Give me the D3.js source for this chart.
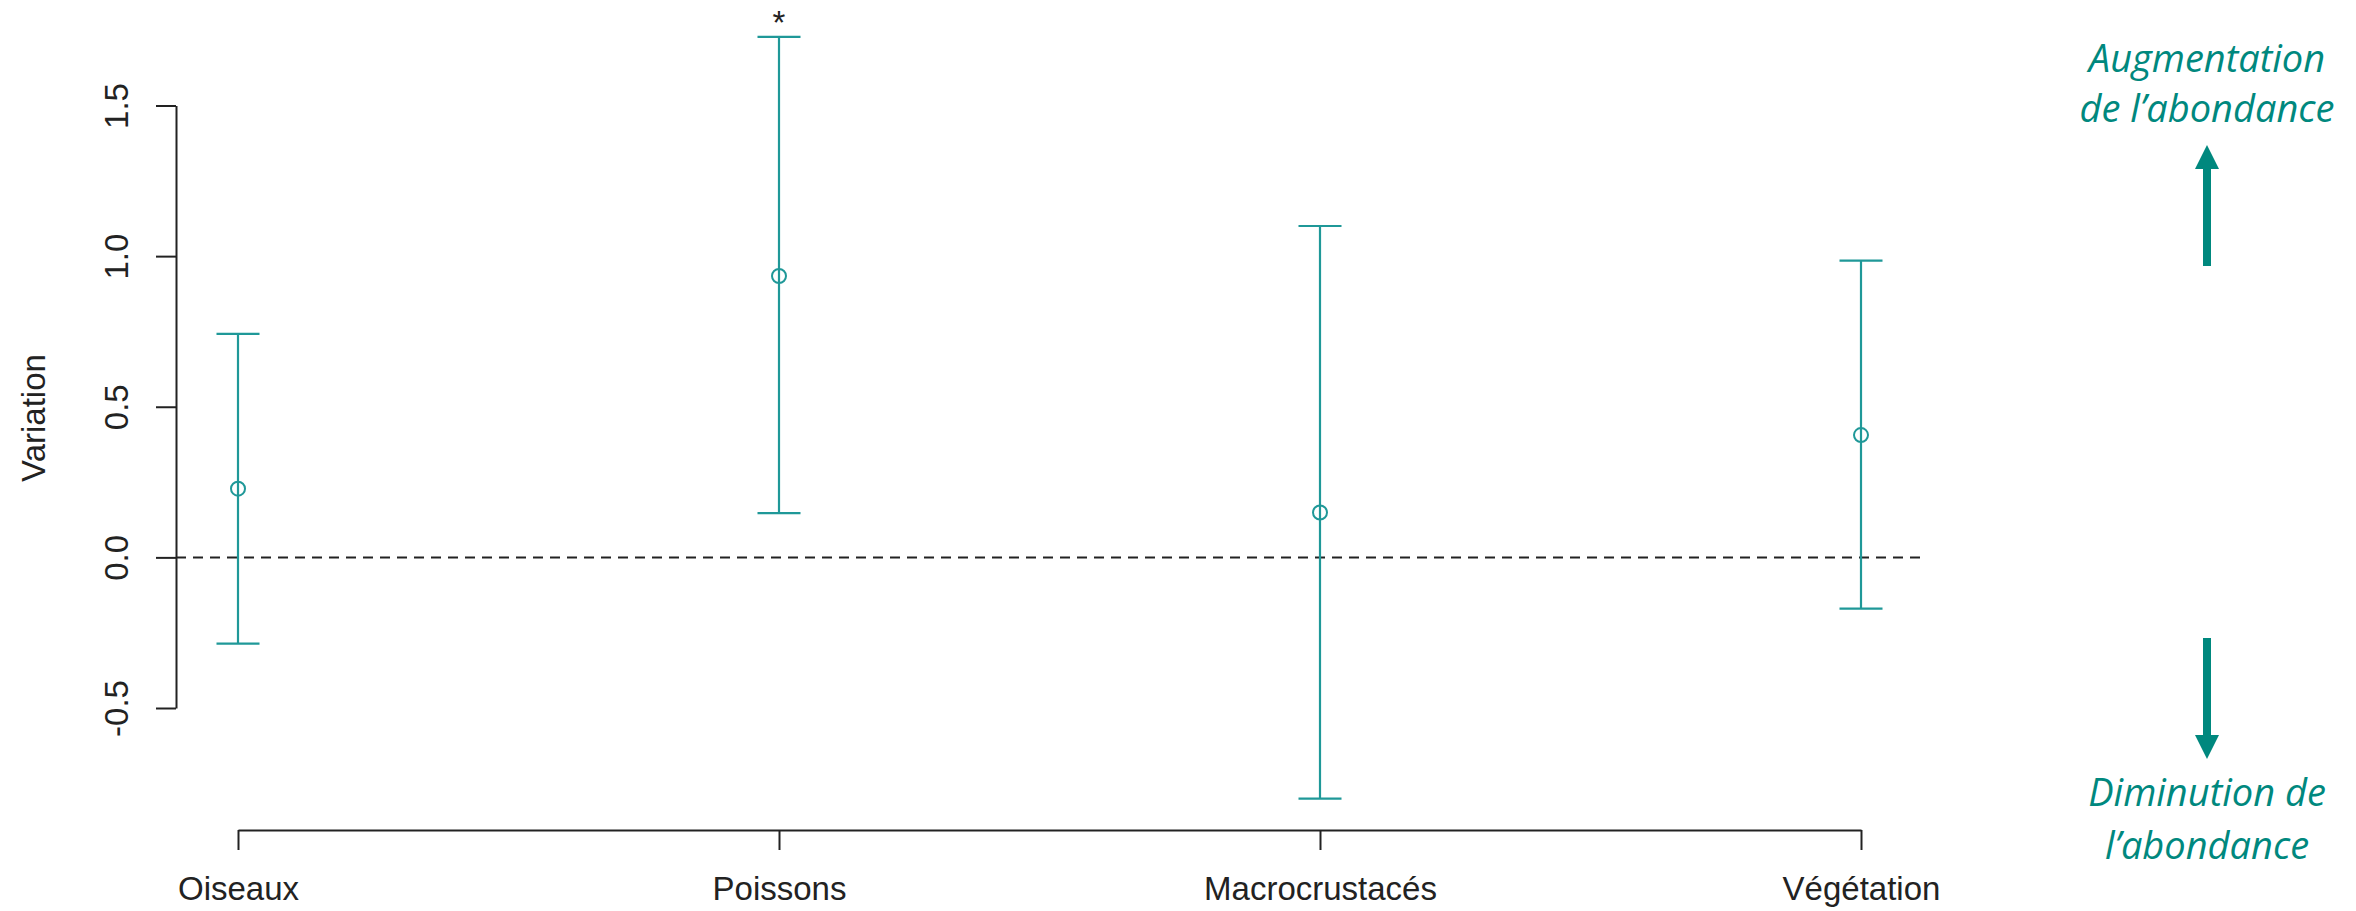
<!DOCTYPE html>
<html>
<head>
<meta charset="utf-8">
<script src="https://cdn.jsdelivr.net/npm/d3@7"></script>
<style>
  body { margin: 0; background: #fff; }
  svg { display: block; }
</style>
</head>
<body>
<svg id="chart"></svg>
<script>
// values
const groups = ["Oiseaux", "Poissons", "Macrocrustacés", "Végétation"];
const estimates = [0.228, 0.934, 0.149, 0.406];
const lowerCI = [-0.286, 0.147, -0.801, -0.170];
const upperCI = [0.742, 1.728, 1.100, 0.985];
const signif = ["", "*", "", ""];
const yTicks = [-0.5, 0, 0.5, 1.0, 1.5];
const upLabel = ["Augmentation", "de l’abondance"];
const downLabel = ["Diminution de", "l’abondance"];

const width = 2356, height = 911;
const plotLeft = 176, plotRight = 1920;   // plot region (for the y axis and the dashed line)
const barColor = "#1f9898";
const noteColor = "#00887e";
const font = "'Liberation Sans', Arial, sans-serif";

const svg = d3.select('#chart')
    .attr('width', width)
    .attr('height', height);

const x = d3.scalePoint()
    .domain(groups)
    .range([238, 1861]);

const y = d3.scaleLinear()
    .domain([-0.5, 1.5])
    .range([708, 105.5]);

const data = groups.map((g, i) => ({
    group: g, est: estimates[i], lo: lowerCI[i], hi: upperCI[i], sig: signif[i]
}));

// y axis, R style: labels parallel to the axis, plain hyphen for minus
const yAxis = svg.append('g')
    .attr('transform', `translate(${plotLeft},0)`)
    .call(d3.axisLeft(y).tickValues(yTicks).tickFormat(d => d.toFixed(1)).tickSize(20).tickSizeOuter(0));

yAxis.selectAll('path, line').attr('stroke', '#222').attr('stroke-width', 2);
yAxis.selectAll('text')
    .attr('transform', 'rotate(-90)')
    .attr('x', 0)
    .attr('y', -48)
    .attr('dy', 0)
    .attr('text-anchor', 'middle')
    .style('font-family', font)
    .style('font-size', '33px')
    .attr('fill', '#222');

svg.append('text')
    .attr('transform', `translate(45,418) rotate(-90)`)
    .attr('text-anchor', 'middle')
    .style('font-family', font)
    .style('font-size', '33px')
    .attr('fill', '#222')
    .text('Variation');

// x axis
const xAxis = svg.append('g')
    .attr('transform', 'translate(0,830)')
    .call(d3.axisBottom(x).tickSize(20).tickSizeOuter(0));

xAxis.selectAll('path, line').attr('stroke', '#222').attr('stroke-width', 2);
xAxis.selectAll('text')
    .attr('y', 70)
    .attr('dy', 0)
    .style('font-family', font)
    .style('font-size', '33px')
    .attr('fill', '#222');

// zero line
svg.append('line')
    .attr('x1', plotLeft)
    .attr('x2', plotRight)
    .attr('y1', y(0))
    .attr('y2', y(0))
    .attr('stroke', '#222')
    .attr('stroke-width', 2)
    .attr('stroke-dasharray', '10,7');

// error bars
const bars = svg.append('g')
    .selectAll('g')
    .data(data)
    .join('g')
    .attr('transform', d => `translate(${x(d.group)},0)`);

bars.append('line')
    .attr('y1', d => y(d.lo))
    .attr('y2', d => y(d.hi))
    .attr('stroke', barColor)
    .attr('stroke-width', 2.2);

bars.selectAll('.cap')
    .data(d => [d.lo, d.hi])
    .join('line')
    .attr('class', 'cap')
    .attr('x1', -21.5)
    .attr('x2', 21.5)
    .attr('y1', v => y(v))
    .attr('y2', v => y(v))
    .attr('stroke', barColor)
    .attr('stroke-width', 2.2);

bars.append('circle')
    .attr('cy', d => y(d.est))
    .attr('r', 7)
    .attr('fill', 'none')
    .attr('stroke', barColor)
    .attr('stroke-width', 2);

bars.append('text')
    .attr('y', d => y(d.hi) - 3)
    .attr('text-anchor', 'middle')
    .style('font-family', font)
    .style('font-size', '33px')
    .attr('fill', '#222')
    .text(d => d.sig);

// side notes with arrows
const notes = svg.append('g').attr('fill', noteColor);
const noteX = 2207;

notes.selectAll('.up')
    .data(upLabel)
    .join('text')
    .attr('class', 'up')
    .attr('x', noteX)
    .attr('y', (d, i) => 72 + i * 50)
    .attr('text-anchor', 'middle')
    .style('font-family', "'Open Sans', sans-serif")
    .style('font-style', 'italic')
    .style('font-size', '38px')
    .text(d => d);

notes.selectAll('.down')
    .data(downLabel)
    .join('text')
    .attr('class', 'down')
    .attr('x', noteX)
    .attr('y', (d, i) => 806 + i * 53)
    .attr('text-anchor', 'middle')
    .style('font-family', "'Open Sans', sans-serif")
    .style('font-style', 'italic')
    .style('font-size', '38px')
    .text(d => d);

// up arrow
notes.append('rect').attr('x', noteX - 4).attr('y', 168).attr('width', 8).attr('height', 98);
notes.append('path').attr('d', `M${noteX},145 L${noteX + 12},169 L${noteX - 12},169 Z`);
// down arrow
notes.append('rect').attr('x', noteX - 4).attr('y', 638).attr('width', 8).attr('height', 98);
notes.append('path').attr('d', `M${noteX},759 L${noteX + 12},735 L${noteX - 12},735 Z`);
</script>
</body>
</html>
